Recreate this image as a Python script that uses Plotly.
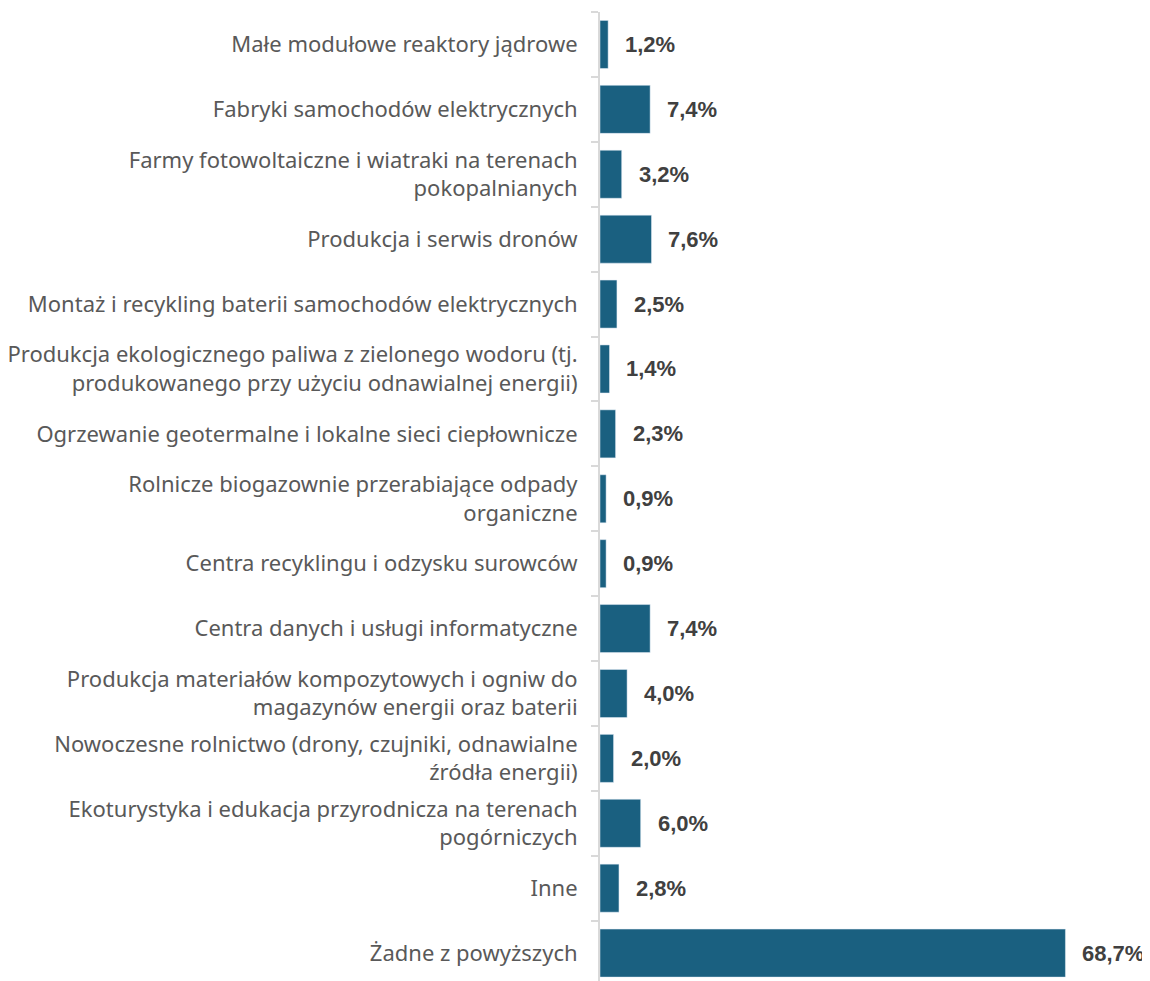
import plotly.graph_objects as go

categories = [
    "Małe modułowe reaktory jądrowe",
    "Fabryki samochodów elektrycznych",
    "Farmy fotowoltaiczne i wiatraki na terenach<br>pokopalnianych",
    "Produkcja i serwis dronów",
    "Montaż i recykling baterii samochodów elektrycznych",
    "Produkcja ekologicznego paliwa z zielonego wodoru (tj.<br>produkowanego przy użyciu odnawialnej energii)",
    "Ogrzewanie geotermalne i lokalne sieci ciepłownicze",
    "Rolnicze biogazownie przerabiające odpady<br>organiczne",
    "Centra recyklingu i odzysku surowców",
    "Centra danych i usługi informatyczne",
    "Produkcja materiałów kompozytowych i ogniw do<br>magazynów energii oraz baterii",
    "Nowoczesne rolnictwo (drony, czujniki, odnawialne<br>źródła energii)",
    "Ekoturystyka i edukacja przyrodnicza na terenach<br>pogórniczych",
    "Inne",
    "Żadne z powyższych",
]
values = [1.2, 7.4, 3.2, 7.6, 2.5, 1.4, 2.3, 0.9, 0.9, 7.4, 4.0, 2.0, 6.0, 2.8, 68.7]
value_labels = ["1,2%", "7,4%", "3,2%", "7,6%", "2,5%", "1,4%", "2,3%", "0,9%", "0,9%",
                "7,4%", "4,0%", "2,0%", "6,0%", "2,8%", "68,7%"]

fig = go.Figure(go.Bar(
    x=values, y=categories, orientation="h",
    marker=dict(color="#1a6080"),
    width=0.74,
    hoverinfo="skip",
))

for c, v, t in zip(categories, values, value_labels):
    fig.add_annotation(x=v, y=c, text=t, showarrow=False, xanchor="left",
                       xshift=15, font=dict(family="Liberation Sans, Arial", size=22,
                                            color="#404040", weight="bold"))

# page body has an 8px margin, so the figure is offset by 8px
fig.update_layout(
    width=1142, height=973,
    margin=dict(l=592, r=8, t=4, b=0),
    plot_bgcolor="white", paper_bgcolor="white",
    showlegend=False,
    xaxis=dict(range=[0, 80], visible=False),
    yaxis=dict(
        type="category",
        categoryorder="array", categoryarray=categories,
        range=[14.43, -0.5],
        showline=True, linecolor="#d9d9d9", linewidth=2,
        ticks="outside", tickson="boundaries", ticklen=7, tickcolor="#d9d9d9", tickwidth=1.5,
        tickfont=dict(family="Noto Sans", size=22, color="#595959"),
        ticklabelstandoff=16,
        showgrid=False,
        automargin=False,
    ),
)

fig.write_html("out.html")
